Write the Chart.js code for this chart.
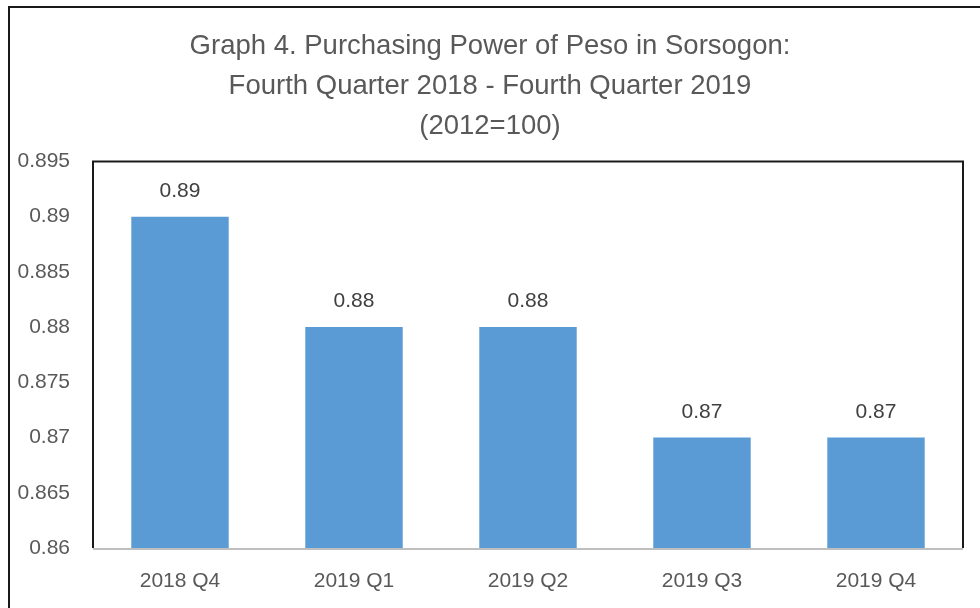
<!DOCTYPE html>
<html>
<head>
<meta charset="utf-8">
<script src="https://cdn.jsdelivr.net/npm/chart.js@4"></script>
<style>
    html, body { margin: 0; padding: 0; background: #fff; overflow: hidden; }
    #wrap { position: relative; width: 980px; height: 608px; }
    #frame { position: absolute; left: 8px; top: 6px; width: 1000px; height: 700px; border-left: 2px solid #1a1a1a; border-top: 2px solid #1a1a1a; box-sizing: border-box; }
    canvas { position: absolute; left: 0; top: 0; }
</style>
</head>
<body>
<div id="wrap">
    <div id="frame"></div>
    <canvas id="chart" width="980" height="608"></canvas>
</div>
<script>
const quarters = ["2018 Q4", "2019 Q1", "2019 Q2", "2019 Q3", "2019 Q4"];
const purchasing_power = [0.89, 0.88, 0.88, 0.87, 0.87];
const title_lines = [
    "Graph 4. Purchasing Power of Peso in Sorsogon:",
    "Fourth Quarter 2018 - Fourth Quarter 2019",
    "(2012=100)"
];

const font_family = "'Liberation Sans', Arial, sans-serif";

// frame around the plot area: black on three sides, grey axis at the bottom
const plot_frame = {
    id: 'plot_frame',
    afterDraw(chart) {
        const { ctx, chartArea: a } = chart;
        ctx.save();
        ctx.strokeStyle = "#1a1a1a";
        ctx.lineWidth = 2;
        ctx.beginPath();
        ctx.moveTo(a.left, a.bottom);
        ctx.lineTo(a.left, a.top);
        ctx.lineTo(a.right, a.top);
        ctx.lineTo(a.right, a.bottom);
        ctx.stroke();
        ctx.strokeStyle = "#bfbfbf";
        ctx.beginPath();
        ctx.moveTo(a.left, a.bottom + 1);
        ctx.lineTo(a.right, a.bottom + 1);
        ctx.stroke();
        ctx.restore();
    }
};

// value labels over each bar
const value_labels = {
    id: 'value_labels',
    afterDatasetsDraw(chart) {
        const { ctx } = chart;
        const meta = chart.getDatasetMeta(0);
        ctx.save();
        ctx.font = "21px " + font_family;
        ctx.fillStyle = "#404040";
        ctx.textAlign = "center";
        ctx.textBaseline = "bottom";
        meta.data.forEach((bar, i) => {
            ctx.fillText(purchasing_power[i].toFixed(2), bar.x, bar.y - 15);
        });
        ctx.restore();
    }
};

let chart = new Chart(
    document.getElementById('chart'),
    {
        type: 'bar',
        data: {
            labels: quarters,
            datasets: [
                {
                    data: purchasing_power,
                    backgroundColor: "#5b9bd5",
                    borderWidth: 0,
                    categoryPercentage: 1,
                    barPercentage: 0.56
                }
            ]
        },
        options: {
            responsive: false,
            animation: false,
            layout: {
                padding: 0
            },
            scales: {
                x: {
                    grid: { display: false, drawTicks: false },
                    border: { display: false },
                    ticks: {
                        color: "#595959",
                        font: { family: font_family, size: 21 },
                        padding: 21
                    },
                    afterFit: (scale) => { scale.height = 60; }
                },
                y: {
                    min: 0.86,
                    max: 0.895,
                    grid: { display: false, drawTicks: false },
                    border: { display: false },
                    ticks: {
                        stepSize: 0.005,
                        color: "#595959",
                        font: { family: font_family, size: 21 },
                        padding: 23,
                        callback: function (value) {
                            return parseFloat(value.toFixed(3)).toString();
                        }
                    },
                    afterFit: (scale) => { scale.width = 93; }
                },
                // empty right axis, only keeps the right margin so the title stays centred on the canvas
                y_right: {
                    position: 'right',
                    min: 0,
                    max: 1,
                    grid: { display: false, drawTicks: false },
                    border: { display: false },
                    ticks: { display: false },
                    afterFit: (scale) => { scale.width = 17; }
                }
            },
            plugins: {
                legend: { display: false },
                tooltip: { enabled: false },
                title: {
                    display: true,
                    text: title_lines,
                    color: "#595959",
                    font: { family: font_family, size: 27.5, weight: 'normal', lineHeight: 1.46 },
                    padding: { top: 26, bottom: 15 }
                }
            }
        },
        plugins: [plot_frame, value_labels]
    }
);
</script>
</body>
</html>
